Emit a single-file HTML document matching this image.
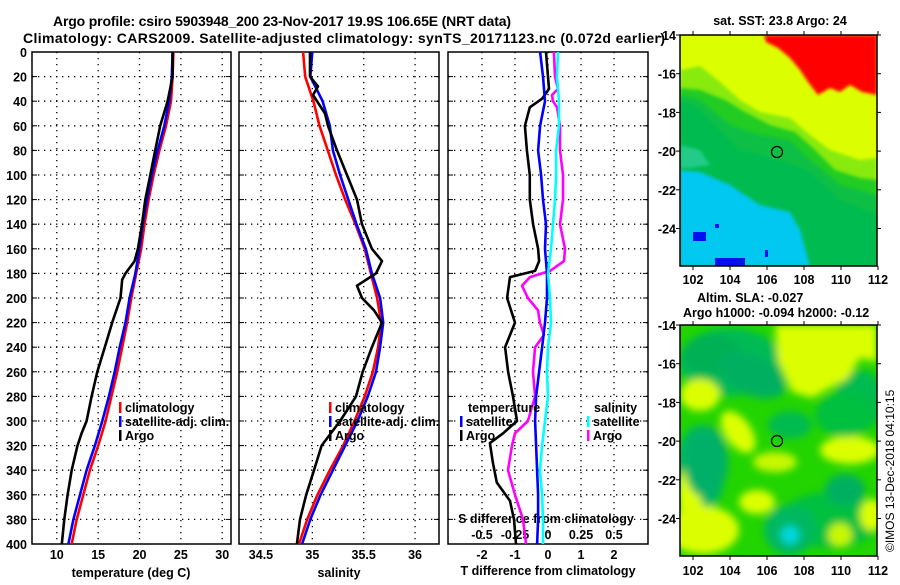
<!DOCTYPE html>
<html><head><meta charset="utf-8"><style>
html,body{margin:0;padding:0;background:#fff;}
svg text{font-family:"Liberation Sans",Arial,sans-serif;font-weight:bold;fill:#000;}
</style></head><body>
<svg id="chart" xmlns="http://www.w3.org/2000/svg" width="900" height="580" viewBox="0 0 900 580">
<defs>
<filter id="blur4" x="-20%" y="-20%" width="140%" height="140%"><feGaussianBlur stdDeviation="4"/></filter>
<filter id="blur2" x="-20%" y="-20%" width="140%" height="140%"><feGaussianBlur stdDeviation="1.5"/></filter>
<clipPath id="clipM1"><rect x="680" y="35" width="197" height="231"/></clipPath>
<clipPath id="clipM2"><rect x="680" y="325" width="197" height="231"/></clipPath>
</defs>
<text x="53" y="26" font-size="14" textLength="458">Argo profile: csiro 5903948_200 23-Nov-2017 19.9S 106.65E (NRT data)</text>
<text x="23" y="43" font-size="14" textLength="642">Climatology: CARS2009. Satellite-adjusted climatology: synTS_20171123.nc (0.072d earlier)</text>

<g clip-path="url(#clipM1)">
<rect x="680" y="35" width="197" height="231" fill="#dcff00"/>
<polygon fill="#ff0000" filter="url(#blur2)" points="764,35 877,35 877,95 862,92 850,85 840,92 830,88 818,95 808,82 800,70 790,58 778,48 766,42"/>
<polygon fill="#88ea10" filter="url(#blur2)" points="680,70 700,66 720,82 740,100 760,112 790,118 810,135 830,150 860,160 877,158 877,266 680,266"/>
<polygon fill="#22cc22" filter="url(#blur2)" points="680,88 700,90 725,100 745,112 770,125 795,132 815,150 835,170 860,178 877,180 877,266 680,266"/>
<polygon fill="#11c044" filter="url(#blur2)" points="680,95 700,100 730,125 760,135 790,140 810,160 840,185 877,195 877,266 680,266"/>
<polygon fill="#00bb50" filter="url(#blur2)" points="680,100 700,110 740,150 780,160 810,172 840,200 877,215 877,266 680,266"/>
<polygon fill="#00c8f0" filter="url(#blur2)" points="680,170 700,172 730,185 760,205 790,212 800,230 810,266 680,266"/>
<polygon fill="#22cc88" filter="url(#blur2)" points="680,145 700,150 710,165 690,168 680,168"/>
<rect x="693" y="232" width="13" height="9" fill="#0010ee"/>
<rect x="715" y="258" width="30" height="8" fill="#0010ee"/>
<rect x="715" y="224" width="4" height="4" fill="#0010ee"/>
<rect x="765" y="250" width="3" height="7" fill="#0010ee"/>
</g>
<rect x="680" y="35" width="197" height="231" fill="none" stroke="#000" stroke-width="1.5"/>
<circle cx="777" cy="152" r="5.5" fill="none" stroke="#000" stroke-width="1.2"/>
<text x="780" y="25" font-size="12.5" text-anchor="middle">sat. SST: 23.8 Argo: 24</text>

<g clip-path="url(#clipM2)">
<rect x="680" y="325" width="197" height="231" fill="#22d400"/>
<g filter="url(#blur4)">
<ellipse cx="730" cy="362" rx="52" ry="34" fill="#00bb55"/>
<ellipse cx="830" cy="520" rx="50" ry="28" fill="#00c040"/>
<ellipse cx="700" cy="470" rx="25" ry="45" fill="#00b860"/>
<ellipse cx="860" cy="400" rx="25" ry="30" fill="#00bb50"/>
<polygon fill="#dcff00" points="775,325 877,325 877,362 860,358 848,378 812,398 792,392 778,360"/>
<ellipse cx="700" cy="395" rx="20" ry="16" fill="#dcff00"/>
<ellipse cx="738" cy="432" rx="13" ry="24" transform="rotate(-35 738 432)" fill="#dcff00"/>
<ellipse cx="850" cy="450" rx="30" ry="14" fill="#dcff00"/>
<ellipse cx="775" cy="462" rx="22" ry="10" fill="#c8f800"/>
<ellipse cx="703" cy="530" rx="36" ry="24" fill="#dcff00"/>
<ellipse cx="690" cy="495" rx="12" ry="30" fill="#dcff00"/>
<ellipse cx="757" cy="502" rx="18" ry="12" fill="#dcff00"/>
<ellipse cx="872" cy="515" rx="12" ry="16" fill="#dcff00"/>
<ellipse cx="840" cy="535" rx="12" ry="12" fill="#c8f800"/>
<ellipse cx="712" cy="355" rx="30" ry="20" fill="#00b055"/>
<ellipse cx="752" cy="375" rx="36" ry="20" transform="rotate(25 752 375)" fill="#00b060"/>
<ellipse cx="706" cy="462" rx="22" ry="36" fill="#00b068"/>
<ellipse cx="845" cy="415" rx="30" ry="22" fill="#00c040"/>
<ellipse cx="845" cy="490" rx="20" ry="16" fill="#00b060"/>
<ellipse cx="790" cy="530" rx="26" ry="25" fill="#00b860"/>
<ellipse cx="790" cy="535" rx="9" ry="9" fill="#00d8e0"/>
<ellipse cx="790" cy="425" rx="22" ry="14" fill="#00bb50"/>
</g>
</g>
<rect x="680" y="325" width="197" height="231" fill="none" stroke="#000" stroke-width="1.5"/>
<circle cx="777" cy="441" r="5.5" fill="none" stroke="#000" stroke-width="1.2"/>
<text x="697" y="302" font-size="12.5">Altim. SLA: -0.027</text>
<text x="683" y="317" font-size="12.5">Argo h1000: -0.094 h2000: -0.12</text>
<text transform="translate(894,552) rotate(-90)" font-size="12" style="font-weight:normal">©IMOS 13-Dec-2018 04:10:15</text>
</svg>
<script>
// ---- depth axis
const depthTicks = [0,20,40,60,80,100,120,140,160,180,200,220,240,260,280,300,320,340,360,380,400];
const tempTicks = [10,15,20,25,30];
const salTicks = [34.5,35,35.5,36];
const tdiffTicks = [-2,-1,0,1,2];
const sdiffTicks = [-0.5,-0.25,0,0.25,0.5];
const sdiffTickLabels = ['-0.5','-0.25','0','0.25','0.5'];
// temperature profiles
const tClimDepth = [0,20,40,60,80,100,120,140,160,180,200,220,240,260,280,300,320,340,360,380,400];
const tClim = [24.1,24.0,23.8,23.2,22.4,21.7,21.1,20.6,20.2,19.6,19.0,18.5,17.9,17.3,16.6,15.9,15.0,14.0,13.2,12.4,11.8];
const tSat = [24.0,23.9,23.6,23.0,22.2,21.5,20.9,20.4,20.0,19.5,18.8,18.3,17.6,17.0,16.3,15.5,14.6,13.6,12.8,12.0,11.4];
const tArgoDepth = [0,20,40,60,80,100,120,140,160,170,180,185,200,220,240,260,280,300,310,320,340,360,380,400];
const tArgo = [24.0,24.0,23.4,22.5,21.9,21.3,20.7,20.3,19.8,19.4,18.3,17.9,17.7,16.7,15.8,14.9,14.2,13.6,13.0,12.5,11.8,11.3,10.9,10.6];
// salinity profiles
const sClim = [34.91,34.93,35.01,35.07,35.15,35.23,35.32,35.42,35.51,35.57,35.63,35.67,35.64,35.59,35.51,35.41,35.30,35.17,35.05,34.95,34.87];
const sSat = [35.0,34.98,35.1,35.17,35.2,35.27,35.35,35.43,35.52,35.58,35.66,35.69,35.66,35.62,35.54,35.44,35.32,35.2,35.08,34.98,34.9];
const sArgoDepth = [0,20,28,35,50,60,80,100,120,140,160,170,180,190,200,210,220,240,260,280,300,320,340,360,380,400];
const sArgo = [34.977,34.977,35.055,35.006,35.123,35.152,35.24,35.337,35.435,35.483,35.58,35.678,35.62,35.435,35.483,35.60,35.678,35.58,35.49,35.425,35.27,35.09,35.016,34.94,34.88,34.85];
// differences
const dSatDepth = [0,20,40,60,80,100,120,140,160,180,200,220,240,260,280,300,320,340,360,380,400];
const dTSat = [-0.24,-0.15,-0.09,-0.24,-0.30,-0.21,-0.15,-0.06,-0.09,-0.03,-0.03,-0.09,-0.18,-0.27,-0.36,-0.39,-0.36,-0.33,-0.30,-0.30,-0.33];
const dSSat = [0.076,0.068,0.083,0.083,0.061,0.061,0.053,0.038,0.023,0,0.015,0.023,0,-0.008,0,-0.023,-0.045,-0.061,-0.045,-0.038,-0.038];
const dTArgoDepth = [0,20,30,38,45,60,80,100,120,140,160,170,178,183,200,220,240,260,280,300,305,310,318,334,350,365,380,400];
const dTArgo = [-0.06,0,0.03,-0.18,-0.55,-0.70,-0.64,-0.55,-0.55,-0.45,-0.30,-0.27,-0.39,-1.15,-1.24,-1.0,-1.30,-1.21,-1.06,-0.94,-1.15,-1.36,-1.76,-1.67,-1.55,-1.15,-1.03,-0.97];
const dSArgoDepth = [0,20,30,35,40,45,60,80,100,120,140,160,170,178,183,190,200,210,220,230,240,260,280,300,310,320,340,360,380,400];
const dSArgo = [0.045,0.053,0.076,0.03,0.038,0.068,0.091,0.091,0.114,0.114,0.091,0.129,0.121,0.015,-0.136,-0.197,-0.152,-0.076,-0.061,-0.03,-0.098,-0.114,-0.098,-0.152,-0.25,-0.273,-0.303,-0.25,-0.189,-0.167];
// maps
const mapLonTicks = [102,104,106,108,110,112];
const mapLatTicks = [-14,-16,-18,-20,-22,-24];

const NS = 'http://www.w3.org/2000/svg';
const svg = document.getElementById('chart');
function mk(tag, attrs, parent){ const e=document.createElementNS(NS,tag); for(const k in attrs) e.setAttribute(k,attrs[k]); (parent||svg).appendChild(e); return e; }

const Y0=52, Y1=544;
const yD = d => Y0 + d/400*(Y1-Y0);
const panels = [
  {name:'temperature', x0:32, x1:231, v0:7, v1:31.06},
  {name:'salinity', x0:239, x1:439, v0:34.286, v1:36.233},
  {name:'difference', x0:448, x1:648, v0:-3.03, v1:3.03}
];
const xT = v => panels[0].x0 + (v-panels[0].v0)/(panels[0].v1-panels[0].v0)*(panels[0].x1-panels[0].x0);
const xS = v => panels[1].x0 + (v-panels[1].v0)/(panels[1].v1-panels[1].v0)*(panels[1].x1-panels[1].x0);
const xDT = v => panels[2].x0 + (v-panels[2].v0)/(panels[2].v1-panels[2].v0)*(panels[2].x1-panels[2].x0);
const xDS = v => xDT(v*4);
const xFns = [xT, xS, xDT];
const xTicksArr = [tempTicks, salTicks, tdiffTicks];

panels.forEach((p,i)=>{
  const g = mk('g',{});
  
  
  depthTicks.forEach(d=>{
    if(d===0||d===400) return;
    const l=mk('line',{x1:p.x0,x2:p.x1,y1:yD(d),y2:yD(d),stroke:'#000','stroke-width':1.3,'stroke-dasharray':'1.3 4.7'},g);
    
    
    mk('line',{x1:p.x0,x2:p.x0+5,y1:yD(d),y2:yD(d),stroke:'#000','stroke-width':1},g);
    mk('line',{x1:p.x1-5,x2:p.x1,y1:yD(d),y2:yD(d),stroke:'#000','stroke-width':1},g);
  });
  xTicksArr[i].forEach(v=>{
    const x=xFns[i](v);
    const l=mk('line',{x1:x,x2:x,y1:Y0,y2:Y1,stroke:'#000','stroke-width':1.3,'stroke-dasharray':'1.3 4.7'},g);
    
    
    const t=mk('text',{x:x,y:559,'font-size':12.5,'text-anchor':'middle'},g);
    t.textContent=String(v);
    
    
  });
  const fr=mk('rect',{x:p.x0,y:Y0,width:p.x1-p.x0,height:Y1-Y0,fill:'none',stroke:'#000','stroke-width':1.5},g);
  
  
});
depthTicks.forEach(d=>{
  const t=mk('text',{x:27,y:yD(d)+5,'font-size':12.5,'text-anchor':'end'});
  t.textContent=String(d);
  
  
});
function axisTitle(txt,x,y,name){ const t=mk('text',{x:x,y:y,'font-size':12.5,'text-anchor':'middle'}); t.textContent=txt;   }
axisTitle('temperature (deg C)',131,577,'temperature-axis-title');
axisTitle('salinity',339,577,'salinity-axis-title');
axisTitle('T difference from climatology',548,575,'t-difference-axis-title');
axisTitle('S difference from climatology',546,523,'s-difference-axis-title');
sdiffTicks.forEach((v,i)=>{
  const t=mk('text',{x:xDS(v),y:539,'font-size':12.5,'text-anchor':'middle'});
  t.textContent=sdiffTickLabels[i];
  
  
});

function line(depths, vals, xf, color, name){
  const pts = vals.map((v,i)=> xf(v).toFixed(1)+','+yD(depths[i]).toFixed(1)).join(' ');
  const pl = mk('polyline',{points:pts,fill:'none',stroke:color,'stroke-width':2.6,'stroke-linejoin':'round'});
  
  
}
line(tClimDepth,tClim,xT,'#ff0000','temperature-climatology-line');
line(tClimDepth,tSat,xT,'#0000ff','temperature-satellite-line');
line(tArgoDepth,tArgo,xT,'#000000','temperature-argo-line');
line(tClimDepth,sClim,xS,'#ff0000','salinity-climatology-line');
line(tClimDepth,sSat,xS,'#0000ff','salinity-satellite-line');
line(sArgoDepth,sArgo,xS,'#000000','salinity-argo-line');
line(dTArgoDepth,dTArgo,xDT,'#000000','t-difference-argo-line');
line(dSArgoDepth,dSArgo,xDS,'#ff00ff','s-difference-argo-line');
line(dSatDepth,dTSat,xDT,'#0000ff','t-difference-satellite-line');
line(dSatDepth,dSSat,xDS,'#00ffff','s-difference-satellite-line');

function legend(x,y,color,txt,name){
  const g=mk('g',{});
  
  
  if(color) mk('rect',{x:x,y:y-10,width:2.5,height:11,fill:color},g);
  const t=mk('text',{x:color?x+6:x,y:y,'font-size':12.5},g);
  t.textContent=txt;
}
legend(119,412,'#ff0000','climatology','legend-temp-climatology');
legend(119,426,'#0000ff','satellite-adj. clim.','legend-temp-satellite');
legend(119,440,'#000000','Argo','legend-temp-argo');
legend(329,412,'#ff0000','climatology','legend-sal-climatology');
legend(329,426,'#0000ff','satellite-adj. clim.','legend-sal-satellite');
legend(329,440,'#000000','Argo','legend-sal-argo');
legend(468,412,null,'temperature','legend-t-header');
legend(460,426,'#0000ff','satellite','legend-t-satellite');
legend(460,440,'#000000','Argo','legend-t-argo');
legend(594,412,null,'salinity','legend-s-header');
legend(587,426,'#00ffff','satellite','legend-s-satellite');
legend(587,440,'#ff00ff','Argo','legend-s-argo');

// map axes
const lonX = lon => 693 + (lon-102)*18.5;
[[35,266,284],[325,556,575]].forEach(([top,bot,ly],mi)=>{
  const latY = lat => top + (-14-lat)*19.35;
  mapLonTicks.forEach(lon=>{
    const x=lonX(lon);
    mk('line',{x1:x,x2:x,y1:bot,y2:bot+4,stroke:'#000','stroke-width':1});
    mk('line',{x1:x,x2:x,y1:top-4,y2:top,stroke:'#000','stroke-width':1});
    const t=mk('text',{x:x,y:ly,'font-size':12.5,'text-anchor':'middle'});
    t.textContent=String(lon);
    
    
  });
  mapLatTicks.forEach(lat=>{
    const y=latY(lat);
    mk('line',{x1:676,x2:680,y1:y,y2:y,stroke:'#000','stroke-width':1});
    mk('line',{x1:877,x2:881,y1:y,y2:y,stroke:'#000','stroke-width':1});
    const t=mk('text',{x:676,y:y+5,'font-size':12.5,'text-anchor':'end'});
    t.textContent=String(lat);
    
    
  });
});
</script>
</body></html>
